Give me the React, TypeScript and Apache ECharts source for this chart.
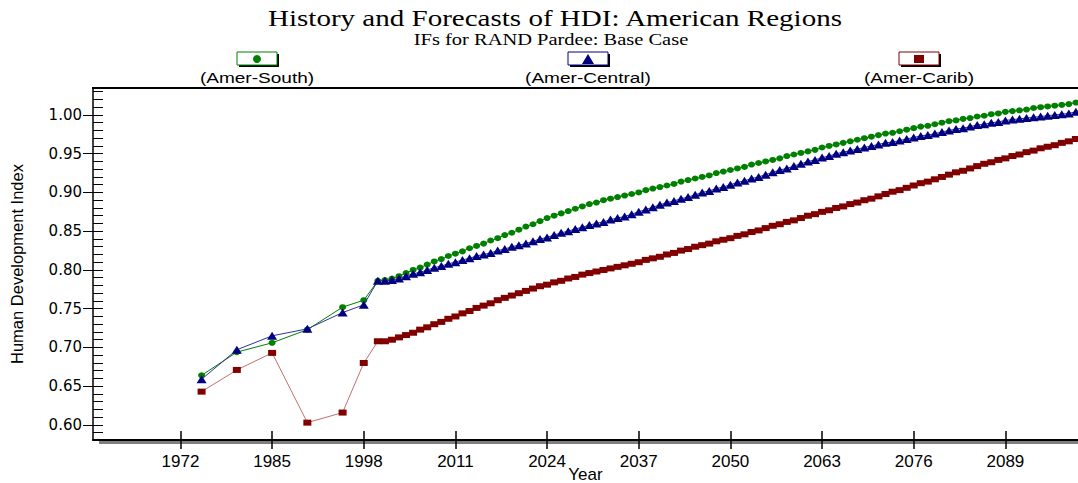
import React, { useEffect, useRef } from "react";
import * as echarts from "echarts";

const seriesNames = ["Amer-South", "Amer-Central", "Amer-Carib"];
const seriesColors = ["#008000", "#000080", "#800000"];

const histYears = [1975, 1980, 1985, 1990, 1995, 1998];
const forecastYears = Array.from({ length: 101 }, (_, i) => 2000 + i);
const years = [...histYears, ...forecastYears];

const amerSouth = [
  0.664, 0.694, 0.706, 0.723, 0.752, 0.761,
  0.786, 0.787, 0.789, 0.792, 0.796, 0.800, 0.803, 0.807, 0.811, 0.814,
  0.818, 0.821, 0.824, 0.828, 0.831, 0.834, 0.838, 0.841, 0.845, 0.848,
  0.852, 0.856, 0.859, 0.863, 0.867, 0.870, 0.873, 0.876, 0.879, 0.882,
  0.885, 0.887, 0.890, 0.892, 0.894, 0.896, 0.898, 0.900, 0.903, 0.905,
  0.907, 0.909, 0.911, 0.914, 0.916, 0.918, 0.920, 0.922, 0.925, 0.927,
  0.929, 0.931, 0.933, 0.936, 0.938, 0.940, 0.942, 0.944, 0.947, 0.949,
  0.951, 0.953, 0.955, 0.958, 0.960, 0.962, 0.964, 0.966, 0.968, 0.970,
  0.972, 0.974, 0.976, 0.977, 0.979, 0.981, 0.983, 0.985, 0.986, 0.988,
  0.990, 0.992, 0.993, 0.995, 0.996, 0.998, 0.999, 1.001, 1.002, 1.004,
  1.005, 1.006, 1.007, 1.009, 1.010, 1.011, 1.012, 1.013, 1.014, 1.016,
  1.017,
];

const amerCentral = [
  0.659, 0.697, 0.715, 0.724, 0.745, 0.755,
  0.786, 0.786, 0.787, 0.789, 0.792, 0.795, 0.797, 0.800, 0.803, 0.805,
  0.808, 0.810, 0.813, 0.815, 0.818, 0.820, 0.822, 0.825, 0.827, 0.830,
  0.832, 0.834, 0.837, 0.840, 0.842, 0.845, 0.848, 0.850, 0.853, 0.855,
  0.858, 0.860, 0.862, 0.865, 0.867, 0.869, 0.872, 0.875, 0.878, 0.881,
  0.884, 0.887, 0.889, 0.892, 0.894, 0.897, 0.900, 0.902, 0.905, 0.907,
  0.910, 0.913, 0.915, 0.918, 0.920, 0.923, 0.926, 0.929, 0.931, 0.934,
  0.937, 0.940, 0.942, 0.945, 0.947, 0.950, 0.952, 0.954, 0.956, 0.958,
  0.960, 0.962, 0.964, 0.965, 0.967, 0.969, 0.971, 0.973, 0.974, 0.976,
  0.978, 0.980, 0.982, 0.983, 0.985, 0.987, 0.988, 0.990, 0.991, 0.993,
  0.994, 0.995, 0.996, 0.997, 0.998, 0.999, 1.000, 1.001, 1.002, 1.004,
  1.005,
];

const amerCarib = [
  0.643, 0.671, 0.693, 0.603, 0.616, 0.680,
  0.708, 0.708, 0.710, 0.713, 0.716, 0.719, 0.723, 0.726, 0.730, 0.733,
  0.737, 0.740, 0.744, 0.747, 0.751, 0.754, 0.757, 0.761, 0.764, 0.767,
  0.770, 0.773, 0.776, 0.779, 0.781, 0.784, 0.786, 0.789, 0.791, 0.794,
  0.796, 0.798, 0.800, 0.802, 0.804, 0.806, 0.808, 0.810, 0.813, 0.815,
  0.817, 0.820, 0.822, 0.825, 0.827, 0.830, 0.832, 0.834, 0.837, 0.839,
  0.841, 0.844, 0.846, 0.849, 0.851, 0.854, 0.857, 0.859, 0.862, 0.864,
  0.867, 0.870, 0.872, 0.875, 0.877, 0.880, 0.882, 0.885, 0.887, 0.890,
  0.892, 0.895, 0.898, 0.901, 0.903, 0.906, 0.909, 0.912, 0.914, 0.917,
  0.920, 0.923, 0.926, 0.928, 0.931, 0.934, 0.937, 0.939, 0.942, 0.944,
  0.947, 0.949, 0.952, 0.954, 0.957, 0.959, 0.961, 0.964, 0.966, 0.969,
  0.971,
];

const xTickYears = [1972, 1985, 1998, 2011, 2024, 2037, 2050, 2063, 2076, 2089];
const yMajorTicks = [0.6, 0.65, 0.7, 0.75, 0.8, 0.85, 0.9, 0.95, 1.0];
const yMinorTicks = [
  0.59, 0.6, 0.61, 0.62, 0.63, 0.64, 0.65, 0.66, 0.67, 0.68, 0.69, 0.7, 0.71,
  0.72, 0.73, 0.74, 0.75, 0.76, 0.77, 0.78, 0.79, 0.8, 0.81, 0.82, 0.83, 0.84,
  0.85, 0.86, 0.87, 0.88, 0.89, 0.9, 0.91, 0.92, 0.93, 0.94, 0.95, 0.96, 0.97,
  0.98, 0.99, 1.0, 1.01, 1.02, 1.03,
];

const X_MIN = 1959.6;
const X_MAX = 2099.3;
const Y_MIN = 0.5806;
const Y_MAX = 1.0348;

const pairs = (vals: number[]) => years.map((y, i) => [y, vals[i]]);

export default function App() {
  const ref = useRef<HTMLDivElement>(null);

  useEffect(() => {
    if (!ref.current) return;
    const chart = echarts.init(ref.current, null, { renderer: "svg" });

    const sans = "Liberation Sans";
    const legendX = [257, 588, 919];
    const legendGraphics: any[] = seriesNames.map((name, i) => {
      const color = seriesColors[i];
      let marker: any;
      if (i === 0) {
        marker = { type: "circle", shape: { cx: 0, cy: 0, r: 4 }, style: { fill: color } };
      } else if (i === 1) {
        marker = {
          type: "polygon",
          shape: { points: [[-6, 5], [6, 5], [0, -5]] },
          style: { fill: color },
        };
      } else {
        marker = { type: "rect", shape: { x: -5, y: -4, width: 10, height: 8 }, style: { fill: color } };
      }
      return {
        type: "group",
        x: legendX[i],
        y: 59,
        children: [
          { type: "rect", shape: { x: -18, y: -5, width: 40, height: 13 }, style: { fill: "#000" } },
          {
            type: "rect",
            shape: { x: -20, y: -7, width: 40, height: 13 },
            style: { fill: "#fff", stroke: color, lineWidth: 1 },
          },
          marker,
          {
            type: "text",
            x: 0,
            y: 19,
            scaleX: 1.36,
            style: {
              text: "(" + name + ")",
              x: 0,
              y: 0,
              textAlign: "center",
              textVerticalAlign: "middle",
              font: `14px "${sans}"`,
              fill: "#000",
            },
          },
        ],
      };
    });

    const option: any = {
      animation: false,
      backgroundColor: "#fff",
      grid: {
        left: 93,
        right: 0,
        top: 88,
        bottom: 43,
        containLabel: false,
        outerBoundsMode: "none",
      },
      xAxis: [
        {
          type: "value",
          min: X_MIN,
          max: X_MAX,
          name: "Year",
          nameLocation: "middle",
          nameGap: 26,
          nameMoveOverlap: false,
          nameTextStyle: { fontFamily: sans, fontSize: 17, color: "#000" },
          axisLine: { show: true, lineStyle: { color: "#000", width: 2 } },
          axisTick: {
            show: true,
            inside: false,
            length: 9,
            customValues: xTickYears,
            lineStyle: { color: "#000", width: 1.5 },
          },
          axisLabel: {
            customValues: xTickYears,
            formatter: (v: number) => String(Math.round(v)),
            fontFamily: sans,
            fontSize: 17,
            color: "#000",
            margin: 13,
          },
          splitLine: { show: false },
        },
        {
          type: "value",
          min: X_MIN,
          max: X_MAX,
          position: "bottom",
          axisLine: { show: false },
          axisTick: {
            show: true,
            inside: true,
            length: 9,
            customValues: xTickYears,
            lineStyle: { color: "#000", width: 1.5 },
          },
          axisLabel: { show: false, customValues: xTickYears },
          splitLine: { show: false },
        },
      ],
      yAxis: [
        {
          type: "value",
          min: Y_MIN,
          max: Y_MAX,
          name: "Human Development Index",
          nameLocation: "middle",
          nameGap: 68,
          nameMoveOverlap: false,
          nameRotate: 90,
          nameTextStyle: { fontFamily: sans, fontSize: 16.5, color: "#000" },
          axisLine: { show: true, lineStyle: { color: "#000", width: 1.5 } },
          axisTick: {
            show: true,
            inside: false,
            length: 10,
            customValues: yMajorTicks,
            lineStyle: { color: "#000", width: 1 },
          },
          axisLabel: {
            customValues: yMajorTicks,
            formatter: (v: number) => v.toFixed(2),
            fontFamily: "DejaVu Sans",
            fontSize: 15,
            color: "#000",
            margin: 11,
          },
          splitLine: { show: false },
        },
        {
          type: "value",
          min: Y_MIN,
          max: Y_MAX,
          position: "left",
          axisLine: { show: false },
          axisTick: {
            show: true,
            inside: true,
            length: 10,
            customValues: yMinorTicks,
            lineStyle: { color: "#000", width: 1 },
          },
          axisLabel: { show: false, customValues: yMinorTicks },
          splitLine: { show: false },
        },
      ],
      graphic: [
        {
          type: "text",
          x: 555,
          y: 18,
          scaleX: 1.21,
          style: {
            text: "History and Forecasts of HDI: American Regions",
            x: 0,
            y: 0,
            textAlign: "center",
            textVerticalAlign: "middle",
            font: '24px "Liberation Serif"',
            fill: "#000",
          },
        },
        {
          type: "text",
          x: 551,
          y: 40,
          scaleX: 1.28,
          style: {
            text: "IFs for RAND Pardee: Base Case",
            x: 0,
            y: 0,
            textAlign: "center",
            textVerticalAlign: "middle",
            font: '16px "Liberation Serif"',
            fill: "#000",
          },
        },
        ...legendGraphics,
        {
          type: "line",
          shape: { x1: 92, y1: 88, x2: 1078, y2: 88 },
          style: { stroke: "#000", lineWidth: 2 },
        },
        {
          type: "rect",
          shape: { x: 99, y: 441, width: 979, height: 3 },
          style: { fill: "#808080" },
        },
      ],
      series: [
        {
          name: seriesNames[2],
          type: "line",
          data: pairs(amerCarib),
          symbol: "rect",
          symbolSize: [8, 6],
          showAllSymbol: true,
          itemStyle: { color: seriesColors[2] },
          lineStyle: { color: "#c07070", width: 1 },
          clip: true,
          z: 2,
        },
        {
          name: seriesNames[0],
          type: "line",
          data: pairs(amerSouth),
          symbol: "circle",
          symbolSize: [7, 6],
          showAllSymbol: true,
          itemStyle: { color: seriesColors[0] },
          lineStyle: { color: seriesColors[0], width: 1 },
          clip: true,
          z: 3,
        },
        {
          name: seriesNames[1],
          type: "line",
          data: pairs(amerCentral),
          symbol: "triangle",
          symbolSize: [10, 8],
          showAllSymbol: true,
          itemStyle: { color: seriesColors[1] },
          lineStyle: { color: "#3030a0", width: 1 },
          clip: true,
          z: 4,
        },
      ],
    };

    chart.setOption(option);
    return () => chart.dispose();
  }, []);

  return (
    <div
      ref={ref}
      style={{ position: "fixed", left: 0, top: 0, width: 1078, height: 483, background: "#fff" }}
    />
  );
}
